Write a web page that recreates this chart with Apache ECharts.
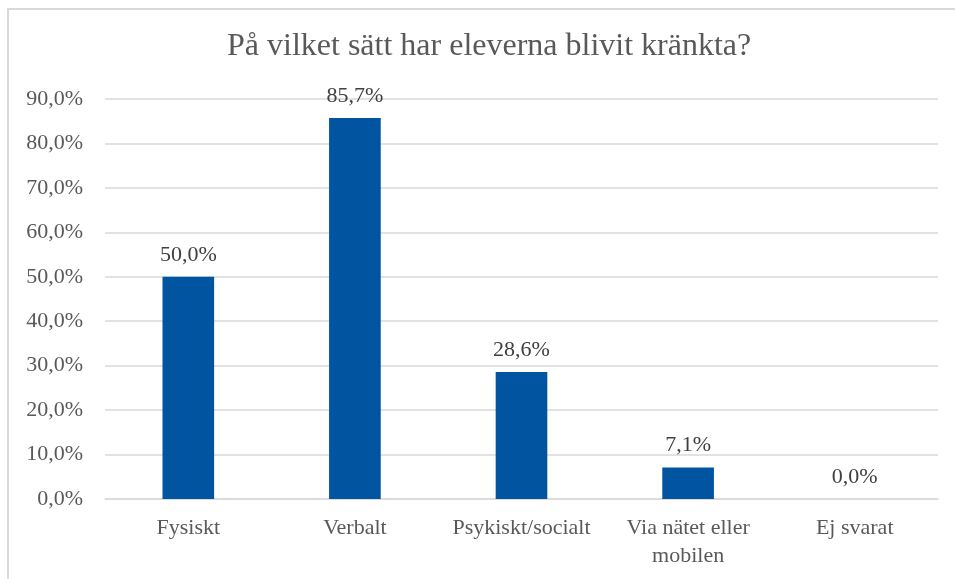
<!DOCTYPE html>
<html>
<head>
<meta charset="utf-8">
<script src="https://cdn.jsdelivr.net/npm/echarts@6/dist/echarts.min.js"></script>
<style>
  html,body{margin:0;padding:0;background:#fff;}
  #container1{width:955px;height:579px;}
</style>
</head>
<body>
<div id="container1"></div>
<script>
// data
var categories = ['Fysiskt', 'Verbalt', 'Psykiskt/socialt', 'Via nätet eller\nmobilen', 'Ej svarat'];
var values = [50.0, 85.7, 28.6, 7.1, 0.0];
var yTicks = [0, 10, 20, 30, 40, 50, 60, 70, 80, 90];

var serif = 'Liberation Serif';

function pct(v){
  return v.toFixed(1).replace('.', ',') + '%';
}

var myChart = echarts.init(document.getElementById('container1'));
var option = {
  animation: false,
  backgroundColor: '#fff',
  textStyle: { fontFamily: serif },
  title: {
    text: 'På vilket sätt har eleverna blivit kränkta?',
    left: 222,
    top: 26,
    textStyle: { fontFamily: serif, fontSize: 32, fontWeight: 'normal', color: '#595959' }
  },
  // chart frame (left and top edge only)
  graphic: [{
    type: 'polyline',
    shape: { points: [[8, 579], [8, 9], [955, 9]] },
    style: { stroke: '#d9d9d9', lineWidth: 2, fill: null },
    silent: true
  }],
  grid: { left: 105, right: 17, top: 99, bottom: 80 },
  xAxis: {
    type: 'category',
    data: categories,
    axisTick: { show: false },
    axisLine: { lineStyle: { color: '#d9d9d9', width: 1.5 } },
    axisLabel: { color: '#595959', fontSize: 22, fontFamily: serif, margin: 15, lineHeight: 28, interval: 0 }
  },
  yAxis: {
    type: 'value',
    min: yTicks[0],
    max: yTicks[yTicks.length - 1],
    interval: 10,
    axisLine: { show: false },
    axisTick: { show: false },
    splitLine: { lineStyle: { color: '#d9d9d9', width: 1.5 } },
    axisLabel: {
      color: '#595959', fontSize: 22, fontFamily: serif, margin: 22,
      formatter: function(v){ return pct(v); }
    }
  },
  series: [{
    type: 'bar',
    data: values,
    barWidth: '31%',
    itemStyle: { color: '#0054A0' },
    label: {
      show: true,
      position: 'top',
      distance: 11,
      color: '#404040',
      fontSize: 22,
      fontFamily: serif,
      formatter: function(p){ return pct(p.value); }
    }
  }]
};
myChart.setOption(option);
</script>
</body>
</html>
